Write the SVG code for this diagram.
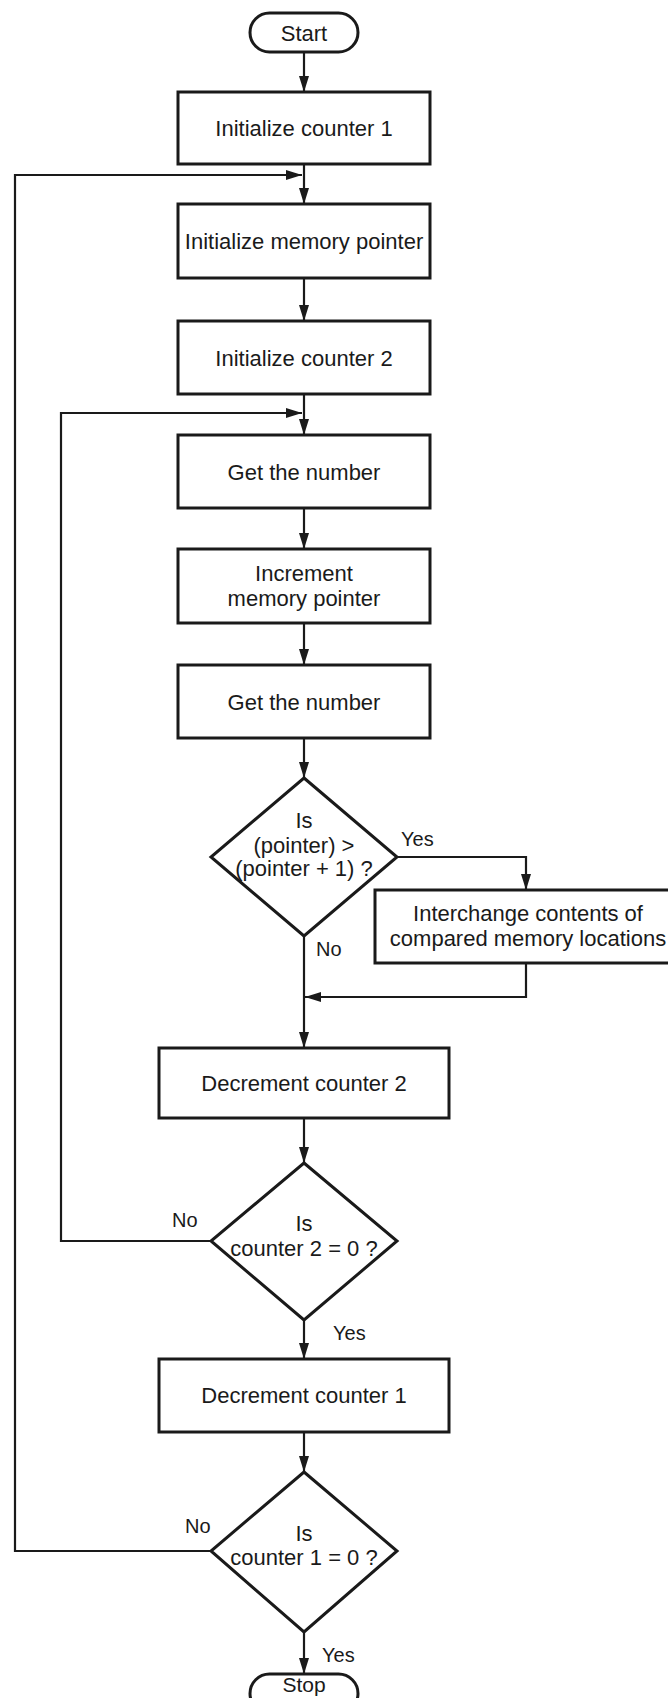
<svg xmlns="http://www.w3.org/2000/svg" width="668" height="1698" viewBox="0 0 668 1698">
<style>
  .box { fill: #fff; stroke: #1a1a1a; stroke-width: 3; }
  .t { font-family: "Liberation Sans", Arial, sans-serif; font-size: 22px; fill: #1a1a1a; text-anchor: middle; }
  .lbl { font-family: "Liberation Sans", Arial, sans-serif; font-size: 20px; fill: #1a1a1a; }
  .ln { fill: none; stroke: #1a1a1a; stroke-width: 2.2; }
</style>
<defs>
  <marker id="ah" viewBox="0 0 16 10" refX="16" refY="5" markerWidth="16" markerHeight="10" markerUnits="userSpaceOnUse" orient="auto">
    <path d="M0,0 L16,5 L0,10 Z" fill="#1a1a1a"/>
  </marker>
</defs>
<rect width="668" height="1698" fill="#fff"/>

<g id="connectors">
  <line class="ln" x1="304" y1="52" x2="304" y2="92" marker-end="url(#ah)"/>
  <line class="ln" x1="304" y1="164" x2="304" y2="204" marker-end="url(#ah)"/>
  <line class="ln" x1="304" y1="278" x2="304" y2="321" marker-end="url(#ah)"/>
  <line class="ln" x1="304" y1="394" x2="304" y2="435" marker-end="url(#ah)"/>
  <line class="ln" x1="304" y1="508" x2="304" y2="549" marker-end="url(#ah)"/>
  <line class="ln" x1="304" y1="623" x2="304" y2="665" marker-end="url(#ah)"/>
  <line class="ln" x1="304" y1="738" x2="304" y2="778" marker-end="url(#ah)"/>
  <polyline class="ln" points="397,857 526,857 526,890" marker-end="url(#ah)"/>
  <line class="ln" x1="304" y1="936" x2="304" y2="1048" marker-end="url(#ah)"/>
  <polyline class="ln" points="526,963 526,997 305,997" marker-end="url(#ah)"/>
  <line class="ln" x1="304" y1="1118" x2="304" y2="1163" marker-end="url(#ah)"/>
  <polyline class="ln" points="211,1241 61,1241 61,413 302,413" marker-end="url(#ah)"/>
  <line class="ln" x1="304" y1="1320" x2="304" y2="1359" marker-end="url(#ah)"/>
  <line class="ln" x1="304" y1="1432" x2="304" y2="1472" marker-end="url(#ah)"/>
  <polyline class="ln" points="211,1551 15,1551 15,175 302,175" marker-end="url(#ah)"/>
  <line class="ln" x1="304" y1="1632" x2="304" y2="1674" marker-end="url(#ah)"/>
</g>

<g id="start">
  <rect class="box" x="250" y="13" width="108" height="39" rx="19.5"/>
  <text class="t" x="304" y="41">Start</text>
</g>
<g id="init-counter-1">
  <rect class="box" x="178" y="92" width="252" height="72"/>
  <text class="t" x="304" y="136">Initialize counter 1</text>
</g>
<g id="init-memory-pointer">
  <rect class="box" x="178" y="204" width="252" height="74"/>
  <text class="t" x="304" y="249">Initialize memory pointer</text>
</g>
<g id="init-counter-2">
  <rect class="box" x="178" y="321" width="252" height="73"/>
  <text class="t" x="304" y="366">Initialize counter 2</text>
</g>
<g id="get-number-1">
  <rect class="box" x="178" y="435" width="252" height="73"/>
  <text class="t" x="304" y="480">Get the number</text>
</g>
<g id="increment-pointer">
  <rect class="box" x="178" y="549" width="252" height="74"/>
  <text class="t" x="304" y="581">Increment</text>
  <text class="t" x="304" y="606">memory pointer</text>
</g>
<g id="get-number-2">
  <rect class="box" x="178" y="665" width="252" height="73"/>
  <text class="t" x="304" y="710">Get the number</text>
</g>
<g id="compare">
  <polygon class="box" points="304,778 397,857 304,936 211,857"/>
  <text class="t" x="304" y="828">Is</text>
  <text class="t" x="304" y="853">(pointer) &gt;</text>
  <text class="t" x="304" y="876">(pointer + 1) ?</text>
  <text class="lbl" x="401" y="846">Yes</text>
  <text class="lbl" x="316" y="956">No</text>
</g>
<g id="interchange">
  <rect class="box" x="375" y="890" width="306" height="73"/>
  <text class="t" x="528" y="921">Interchange contents of</text>
  <text class="t" x="528" y="946">compared memory locations</text>
</g>
<g id="decrement-counter-2">
  <rect class="box" x="159" y="1048" width="290" height="70"/>
  <text class="t" x="304" y="1091">Decrement counter 2</text>
</g>
<g id="check-counter-2">
  <polygon class="box" points="304,1163 397,1241 304,1320 211,1241"/>
  <text class="t" x="304" y="1231">Is</text>
  <text class="t" x="304" y="1256">counter 2 = 0 ?</text>
  <text class="lbl" x="172" y="1227">No</text>
  <text class="lbl" x="333" y="1340">Yes</text>
</g>
<g id="decrement-counter-1">
  <rect class="box" x="159" y="1359" width="290" height="73"/>
  <text class="t" x="304" y="1403">Decrement counter 1</text>
</g>
<g id="check-counter-1">
  <polygon class="box" points="304,1472 397,1551 304,1632 211,1551"/>
  <text class="t" x="304" y="1541">Is</text>
  <text class="t" x="304" y="1565">counter 1 = 0 ?</text>
  <text class="lbl" x="185" y="1533">No</text>
  <text class="lbl" x="322" y="1662">Yes</text>
</g>
<g id="stop">
  <rect class="box" x="250" y="1674" width="108" height="39" rx="19.5"/>
  <text class="t" x="304" y="1692" style="font-size:21px">Stop</text>
</g>
</svg>
